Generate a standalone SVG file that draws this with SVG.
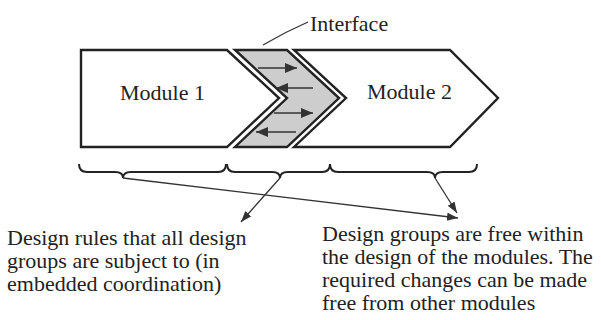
<svg xmlns="http://www.w3.org/2000/svg" width="601" height="320" viewBox="0 0 601 320">
<style>
.shape{stroke:#222;stroke-width:2.4;stroke-linejoin:miter}
.mod{fill:#fff}
.intf{fill:#cdcdcd}
.txt{font-family:"Liberation Serif","Times New Roman",serif;font-size:22px;fill:#222}
.brace{fill:none;stroke:#222;stroke-width:2}
.conn{fill:none;stroke:#333;stroke-width:1.3}
.iarr{fill:none;stroke:#333;stroke-width:1.5}
</style>
<defs>
<marker id="ah" markerUnits="userSpaceOnUse" markerWidth="12" markerHeight="10" refX="11" refY="4" orient="auto">
<path d="M0,0 L11,4 L0,8 z" fill="#333"/>
</marker>
<marker id="ih" markerUnits="userSpaceOnUse" markerWidth="13" markerHeight="11" refX="12" refY="5" orient="auto">
<path d="M0,0 L12,5 L0,10 z" fill="#333"/>
</marker>
</defs>
<rect width="601" height="320" fill="#fff"/>
<g id="module1">
<polygon class="shape mod" points="81,50 227,50 279,98 227,147 81,147"/>
<text class="txt" x="120" y="100">Module 1</text>
</g>
<g id="interface">
<polygon class="shape intf" points="235,50 287,50 339,98 287,147 235,147 287,98"/>
<line class="iarr" x1="258" y1="68" x2="297" y2="68" marker-end="url(#ih)"/>
<line class="iarr" x1="313" y1="88" x2="276" y2="88" marker-end="url(#ih)"/>
<line class="iarr" x1="274" y1="113" x2="313" y2="113" marker-end="url(#ih)"/>
<line class="iarr" x1="296" y1="132" x2="256" y2="132" marker-end="url(#ih)"/>
<path class="conn" d="M263,45 Q285,32 308,22"/>
<text class="txt" x="310" y="31">Interface</text>
</g>
<g id="module2">
<polygon class="shape mod" points="294,50 450,50 498,98 450,147 294,147 346,98"/>
<text class="txt" x="367" y="99">Module 2</text>
</g>
<g id="braces">
<path class="brace" d="M79,164 Q79,172 87,172 L115,172 Q123,172 123,178 Q123,172 131,172 L218,172 Q226,172 226,164"/>
<path class="brace" d="M227,164 Q227,172 235,172 L272,172 Q280,172 280,178 Q280,172 288,172 L322,172 Q330,172 330,164"/>
<path class="brace" d="M330,164 Q330,172 338,172 L427,172 Q435,172 435,178 Q435,172 443,172 L469,172 Q477,172 477,164"/>
</g>
<g id="connectors">
<line class="conn" x1="123" y1="178" x2="458" y2="218" marker-end="url(#ah)"/>
<line class="conn" x1="280" y1="178" x2="241" y2="222" marker-end="url(#ah)"/>
<line class="conn" x1="435" y1="178" x2="457" y2="213" marker-end="url(#ah)"/>
</g>
<g id="label-rules">
<text class="txt" x="7" y="245">Design rules that all design</text>
<text class="txt" x="7" y="268">groups are subject to (in</text>
<text class="txt" x="7" y="291">embedded coordination)</text>
</g>
<g id="label-groups">
<text class="txt" x="322" y="241">Design groups are free within</text>
<text class="txt" x="322" y="264">the design of the modules. The</text>
<text class="txt" x="322" y="287">required changes can be made</text>
<text class="txt" x="322" y="310">free from other modules</text>
</g>
</svg>
